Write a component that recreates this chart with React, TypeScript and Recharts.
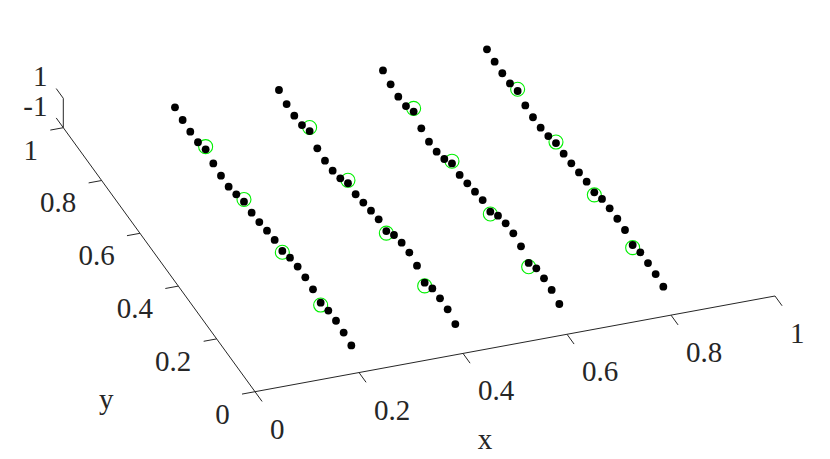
import React from "react";
import {
  ScatterChart,
  Scatter,
  XAxis,
  YAxis,
  ReferenceLine,
} from "recharts";

// the four sampled columns (x), the sample positions along y, and the height of every dot
const lineX = [0.2, 0.4, 0.6, 0.8];
const sampleY = [
  0.04, 0.08, 0.12, 0.16, 0.2, 0.24, 0.28, 0.32, 0.36, 0.4, 0.44, 0.48,
  0.52, 0.56, 0.6, 0.64, 0.68, 0.72, 0.76, 0.8, 0.84, 0.88, 0.92, 0.96,
];
const zLine1 = [0.13, 0.28, 0.37, 0.34, 0.16, 0.35, 0.45, 0.46, 0.35, 0.09, 0.12, 0.03, -0.1, -0.18, -0.15, -0.37, -0.57, -0.54, -0.42, -0.18, -0.42, -0.42, -0.34, -0.2];
const zLine2 = [0.28, 0.56, 0.59, 0.55, 0.22, 0.66, 0.83, 0.79, 0.59, 0.14, 0.22, 0.09, -0.08, -0.23, -0.2, -0.58, -0.78, -0.82, -0.7, -0.24, -0.55, -0.63, -0.56, -0.32];
const zLine3 = [0.34, 0.58, 0.65, 0.61, 0.26, 0.67, 0.84, 0.8, 0.6, 0.16, 0.23, 0.08, -0.07, -0.22, -0.15, -0.57, -0.79, -0.83, -0.64, -0.22, -0.56, -0.64, -0.52, -0.29];
const zLine4 = [0.22, 0.36, 0.39, 0.4, 0.18, 0.48, 0.53, 0.52, 0.44, 0.17, 0.18, 0.09, -0.01, -0.07, -0.07, -0.31, -0.46, -0.47, -0.38, -0.12, -0.32, -0.35, -0.28, -0.16];

// green markers (nodes)
const circleY = [0.2, 0.4, 0.6, 0.8];
const circleZ = [0, 0, 0, 0];

const xTicks = [0, 0.2, 0.4, 0.6, 0.8, 1];
const xTickLabels = ["0", "0.2", "0.4", "0.6", "0.8", "1"];
const yTicks = [0, 0.2, 0.4, 0.6, 0.8, 1];
const yTickLabels = ["0", "0.2", "0.4", "0.6", "0.8", "1"];
const zTicks = [-1, 1];
const zTickLabels = ["-1", "1"];

const W = 830;
const H = 459;
const INK = "#262626";
const FONT = "'Liberation Serif', 'DejaVu Serif', serif";

// orthographic view of the 3-D box, in chart units
function project(x: number, y: number, z: number) {
  return {
    sx: 255 + 520 * x - 191.7 * y,
    sy: 391.7 - 95.7 * x - 264 * y - 14.7 * (z + 1),
  };
}

const zLines = [zLine1, zLine2, zLine3, zLine4];
const dots = lineX.flatMap((x, i) =>
  sampleY.map((y, j) => project(x, y, zLines[i][j]))
);
const rings = lineX.flatMap((x) =>
  circleY.map((y, j) => project(x, y, circleZ[j]))
);

type Seg = { a: { sx: number; sy: number }; b: { sx: number; sy: number } };
const segs: Seg[] = [
  { a: project(0, 0, -1), b: project(1, 0, -1) },
  { a: project(0, 0, -1), b: project(0, 1, -1) },
  { a: project(0, 1, -1), b: project(0, 1, 1) },
  ...xTicks.map((t) => ({ a: project(t, 0, -1), b: project(t, -0.037, -1) })),
  ...yTicks.map((t) => ({ a: project(0, t, -1), b: project(-0.025, t, -1) })),
  ...zTicks.map((t) => ({ a: project(0, 1, t), b: project(0, 1.037, t) })),
];

type Lbl = { sx: number; sy: number; text: string; anchor: string };
const labels: Lbl[] = [
  ...xTicks.map((t, i) => {
    const p = project(t, 0, -1);
    return { sx: p.sx + 15, sy: p.sy + 37, text: xTickLabels[i], anchor: "start" };
  }),
  ...yTicks.map((t, i) => {
    const p = project(0, t, -1);
    return { sx: p.sx - 25.3, sy: p.sy + 21.8, text: yTickLabels[i], anchor: "end" };
  }),
  ...zTicks.map((t, i) => {
    const p = project(0, 1, t);
    return { sx: p.sx - 15.8, sy: p.sy - 22, text: zTickLabels[i], anchor: "end" };
  }),
  (() => {
    const p = project(0.5, 0, -1);
    return { sx: p.sx - 30, sy: p.sy + 95, text: "x", anchor: "middle" };
  })(),
  (() => {
    const p = project(0, 0.5, -1);
    return { sx: p.sx - 53, sy: p.sy + 139, text: "y", anchor: "middle" };
  })(),
];

const Dot = (props: any) => (
  <circle cx={props.cx} cy={props.cy} r={3.9} fill="#000" />
);
const Ring = (props: any) => (
  <circle cx={props.cx} cy={props.cy} r={7} fill="none" stroke="#00f000" strokeWidth={1.1} />
);
const Label = (props: any) => {
  const d = props.payload || props;
  return (
    <text
      x={props.cx}
      y={props.cy}
      textAnchor={d.anchor}
      dominantBaseline="central"
      fontFamily={FONT}
      fontSize={29}
      fill={INK}
    >
      {d.text}
    </text>
  );
};

export default function App() {
  return (
    <div style={{ position: "absolute", left: 0, top: 0, width: W, height: H, background: "#fff" }}>
      <ScatterChart width={W} height={H} margin={{ top: 0, right: 0, bottom: 0, left: 0 }}>
        <XAxis type="number" dataKey="sx" domain={[0, W]} hide allowDataOverflow />
        <YAxis type="number" dataKey="sy" domain={[0, H]} reversed hide allowDataOverflow />
        {segs.map((s, i) => (
          <ReferenceLine
            key={`seg-${i}`}
            segment={[{ x: s.a.sx, y: s.a.sy }, { x: s.b.sx, y: s.b.sy }]}
            stroke={INK}
            strokeWidth={1}
            ifOverflow="visible"
          />
        ))}
        <Scatter data={rings} shape={Ring} isAnimationActive={false} />
        <Scatter data={dots} shape={Dot} isAnimationActive={false} />
        <Scatter data={labels} shape={Label} isAnimationActive={false} />
      </ScatterChart>
    </div>
  );
}
